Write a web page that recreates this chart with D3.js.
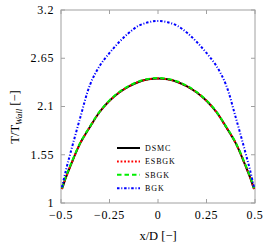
<!DOCTYPE html>
<html>
<head>
<meta charset="utf-8">
<script src="https://cdn.jsdelivr.net/npm/d3@7"></script>
<style>
  body { margin: 0; background: #fff; }
  text { font-family: "Liberation Serif", "DejaVu Serif", serif; fill: #000; }
</style>
</head>
<body>
<div id="chart-area"></div>
<script>
// positions along the channel (x/D)
const xPos = [-0.495, -0.475, -0.45, -0.4, -0.35, -0.3, -0.25, -0.2, -0.15, -0.1, -0.05, 0,
  0.05, 0.1, 0.15, 0.2, 0.25, 0.3, 0.35, 0.4, 0.45, 0.475, 0.495];

const dsmc = [1.16, 1.29, 1.43, 1.685, 1.87, 2.04, 2.165, 2.26, 2.33, 2.38, 2.41, 2.42,
  2.41, 2.38, 2.33, 2.26, 2.165, 2.04, 1.87, 1.685, 1.43, 1.29, 1.16];
const esbgk = [1.16, 1.29, 1.43, 1.685, 1.87, 2.04, 2.165, 2.26, 2.33, 2.38, 2.41, 2.42,
  2.41, 2.38, 2.33, 2.26, 2.165, 2.04, 1.87, 1.685, 1.43, 1.29, 1.16];
const sbgk = [1.17, 1.3, 1.44, 1.69, 1.875, 2.045, 2.17, 2.265, 2.335, 2.385, 2.415, 2.425,
  2.415, 2.385, 2.335, 2.265, 2.17, 2.045, 1.875, 1.69, 1.44, 1.3, 1.17];
const bgk = [1.18, 1.37, 1.58, 1.98, 2.35, 2.565, 2.71, 2.835, 2.94, 3.02, 3.06, 3.075,
  3.06, 3.02, 2.94, 2.835, 2.71, 2.565, 2.35, 1.98, 1.58, 1.37, 1.18];

const xTicks = [-0.5, -0.25, 0, 0.25, 0.5];
const yTicks = [1, 1.55, 2.1, 2.65, 3.2];

const series = [
  { name: "DSMC", values: dsmc, color: "#000000", width: 2, dash: null },
  { name: "ESBGK", values: esbgk, color: "#ff0000", width: 2, dash: "1.8,1.8" },
  { name: "SBGK", values: sbgk, color: "#00ee00", width: 2, dash: "4.5,3" },
  { name: "BGK", values: bgk, color: "#0000ff", width: 2, dash: "2.5,1.8,1,1.8" }
];

const margin = { top: 10, right: 15, bottom: 47, left: 61 };
const width = 270 - margin.left - margin.right,
  height = 250 - margin.top - margin.bottom;

const svg = d3
  .select("#chart-area")
  .append("svg")
  .attr("width", 270)
  .attr("height", 250);

const g = svg
  .append("g")
  .attr("transform", "translate(" + margin.left + "," + margin.top + ")");

const xScale = d3.scaleLinear().domain([-0.5, 0.5]).range([0, width]);
const yScale = d3.scaleLinear().domain([1, 3.2]).range([height, 0]);

const fmt = d => (d < 0 ? "\u2212" : "") + Math.abs(d);

// frame
g.append("rect")
  .attr("width", width)
  .attr("height", height)
  .attr("fill", "none")
  .attr("stroke", "#a0a0a0")
  .attr("stroke-width", 1);

// inward ticks on all sides
const tickLen = 4;
g.selectAll(".xt")
  .data(xTicks)
  .enter()
  .append("path")
  .attr("d", d => {
    const x = xScale(d);
    return "M" + x + "," + height + "v" + -tickLen + "M" + x + ",0v" + tickLen;
  })
  .attr("stroke", "#a0a0a0");
g.selectAll(".yt")
  .data(yTicks)
  .enter()
  .append("path")
  .attr("d", d => {
    const y = yScale(d);
    return "M0," + y + "h" + tickLen + "M" + width + "," + y + "h" + -tickLen;
  })
  .attr("stroke", "#a0a0a0");

// tick labels
g.selectAll(".xl")
  .data(xTicks)
  .enter()
  .append("text")
  .attr("x", d => xScale(d))
  .attr("y", height + 16)
  .attr("text-anchor", "middle")
  .attr("font-size", "12px")
  .attr("letter-spacing", "0.6px")
  .text(fmt);
g.selectAll(".yl")
  .data(yTicks)
  .enter()
  .append("text")
  .attr("x", -7)
  .attr("y", d => yScale(d))
  .attr("dy", "0.32em")
  .attr("text-anchor", "end")
  .attr("font-size", "12px")
  .attr("letter-spacing", "0.6px")
  .text(d => d);

// axis labels
g.append("text")
  .attr("x", width / 2)
  .attr("y", height + 37)
  .attr("text-anchor", "middle")
  .attr("font-size", "12.5px")
  .text("x/D [\u2212]");

const yLab = svg
  .append("text")
  .attr("transform", "translate(19,117) rotate(-90)")
  .attr("text-anchor", "middle")
  .attr("font-size", "12.5px");
yLab.append("tspan").text("T/T");
yLab.append("tspan")
  .attr("font-style", "italic")
  .attr("font-size", "9px")
  .attr("dy", 3)
  .text("Wall");
yLab.append("tspan").attr("dy", -3).text(" [\u2212]");

// curves
const line = d3
  .line()
  .x((d, i) => xScale(xPos[i]))
  .y(d => yScale(d))
  .curve(d3.curveCatmullRom.alpha(0.5));

g.selectAll(".curve")
  .data(series)
  .enter()
  .append("path")
  .attr("class", "curve")
  .attr("d", d => line(d.values))
  .attr("fill", "none")
  .attr("stroke", d => d.color)
  .attr("stroke-width", d => d.width)
  .attr("stroke-dasharray", d => d.dash);

// legend
const legend = g
  .append("g")
  .attr("transform", "translate(56,138)");
const rows = legend
  .selectAll(".row")
  .data(series)
  .enter()
  .append("g")
  .attr("transform", (d, i) => "translate(0," + i * 13.4 + ")");
rows.append("line")
  .attr("x1", 0)
  .attr("x2", 23)
  .attr("stroke", d => d.color)
  .attr("stroke-width", d => d.width)
  .attr("stroke-dasharray", d => d.dash);
rows.append("text")
  .attr("x", 28)
  .attr("dy", "0.35em")
  .attr("font-size", "8px")
  .attr("letter-spacing", "0.9px")
  .text(d => d.name);
</script>
</body>
</html>
